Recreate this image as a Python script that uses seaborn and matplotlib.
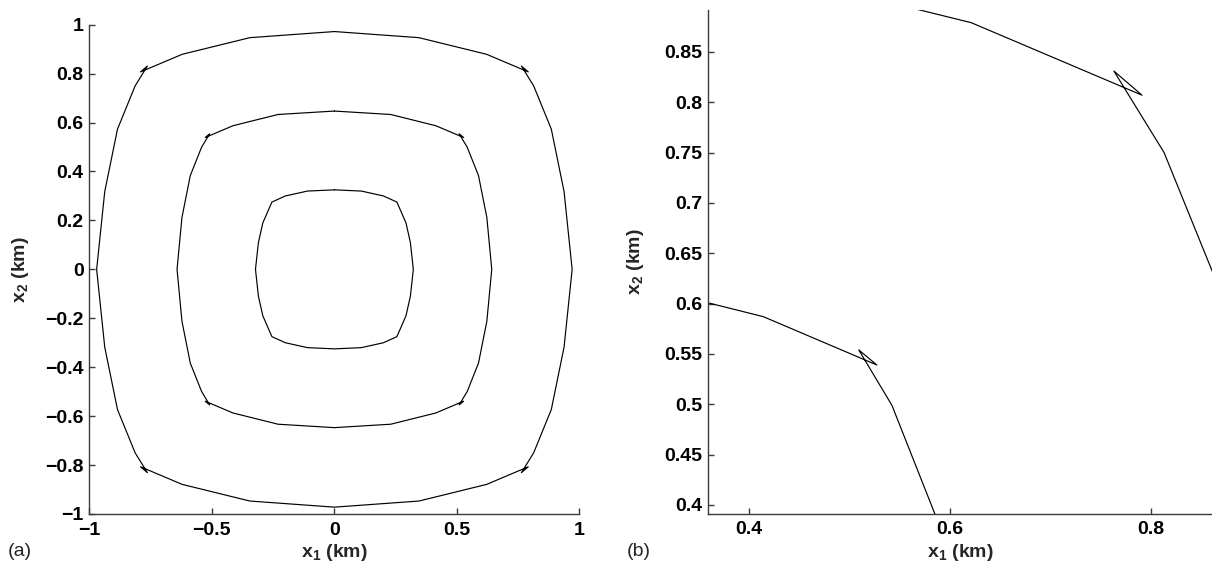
import numpy as np
import pandas as pd
import matplotlib
matplotlib.use("Agg")
import matplotlib.pyplot as plt
import seaborn as sns
from matplotlib.ticker import FuncFormatter, FixedLocator

# ---- data (km) ----
outer_x = [0.000, 0.345, 0.621, 0.791, 0.763, 0.813, 0.885, 0.937, 0.970,
           0.937, 0.885, 0.813, 0.763, 0.791, 0.621, 0.345, 0.000,
           -0.345, -0.621, -0.791, -0.763, -0.813, -0.885, -0.937, -0.970,
           -0.937, -0.885, -0.813, -0.763, -0.791, -0.621, -0.345, 0.000]
outer_y = [0.972, 0.947, 0.879, 0.807, 0.831, 0.750, 0.573, 0.318, 0.000,
           -0.318, -0.573, -0.750, -0.831, -0.807, -0.879, -0.947, -0.972,
           -0.947, -0.879, -0.807, -0.831, -0.750, -0.573, -0.318, 0.000,
           0.318, 0.573, 0.750, 0.831, 0.807, 0.879, 0.947, 0.972]

middle_x = [0.000, 0.230, 0.414, 0.527, 0.509, 0.542, 0.588, 0.622, 0.642,
            0.622, 0.588, 0.542, 0.509, 0.527, 0.414, 0.230, 0.000,
            -0.230, -0.414, -0.527, -0.509, -0.542, -0.588, -0.622, -0.642,
            -0.622, -0.588, -0.542, -0.509, -0.527, -0.414, -0.230, 0.000]
middle_y = [0.647, 0.633, 0.587, 0.539, 0.554, 0.499, 0.383, 0.212, 0.000,
            -0.212, -0.383, -0.499, -0.554, -0.539, -0.587, -0.633, -0.647,
            -0.633, -0.587, -0.539, -0.554, -0.499, -0.383, -0.212, 0.000,
            0.212, 0.383, 0.499, 0.554, 0.539, 0.587, 0.633, 0.647]

inner_x = [0.000, 0.110, 0.200, 0.255, 0.292, 0.310, 0.322,
           0.310, 0.292, 0.255, 0.200, 0.110, 0.000,
           -0.110, -0.200, -0.255, -0.292, -0.310, -0.322,
           -0.310, -0.292, -0.255, -0.200, -0.110, 0.000]
inner_y = [0.325, 0.320, 0.300, 0.275, 0.190, 0.110, 0.000,
           -0.110, -0.190, -0.275, -0.300, -0.320, -0.325,
           -0.320, -0.300, -0.275, -0.190, -0.110, 0.000,
           0.110, 0.190, 0.275, 0.300, 0.320, 0.325]

left_ticks_x = [-1, -0.5, 0, 0.5, 1]
left_ticks_y = [-1, -0.8, -0.6, -0.4, -0.2, 0, 0.2, 0.4, 0.6, 0.8, 1]
right_ticks_x = [0.4, 0.6, 0.8]
right_ticks_y = [0.4, 0.45, 0.5, 0.55, 0.6, 0.65, 0.7, 0.75, 0.8, 0.85]

frames = []
for name, xs, ys in [("outer", outer_x, outer_y),
                     ("middle", middle_x, middle_y),
                     ("inner", inner_x, inner_y)]:
    frames.append(pd.DataFrame({"x1": xs, "x2": ys, "contour": name}))
df = pd.concat(frames, ignore_index=True)

# ---- style ----
sns.set_style("ticks")
plt.rcParams["font.family"] = ["Liberation Sans", "DejaVu Sans"]
plt.rcParams["mathtext.fontset"] = "custom"
plt.rcParams["mathtext.bf"] = "Liberation Sans:bold"
plt.rcParams["mathtext.rm"] = "Liberation Sans:bold"
plt.rcParams["mathtext.default"] = "bf"

spine_col = "#3a3a3a"
FS = 14

fig = plt.figure(figsize=(12.12, 5.66), dpi=100)
axa = fig.add_axes([89.3 / 1212, 52 / 566, 490.2 / 1212, 489.3 / 566])
axb = fig.add_axes([708 / 1212, 52.4 / 566, 505 / 1212, 503.6 / 566])


def fmt(v, pos):
    s = f"{round(v, 4):g}"
    return s.replace("-", "\u2212")


for ax, ylpad in ((axa, 10.5), (axb, 13.5)):
    for name in ["outer", "middle", "inner"]:
        sub = df[df["contour"] == name]
        sns.lineplot(data=sub, x="x1", y="x2", sort=False, estimator=None,
                     color="black", linewidth=0.85, ax=ax, legend=False)
    for side in ("top", "right"):
        ax.spines[side].set_visible(False)
    for side in ("left", "bottom"):
        ax.spines[side].set_color(spine_col)
        ax.spines[side].set_linewidth(1.0)
    ax.tick_params(direction="in", length=4, width=1.0, color=spine_col,
                   labelsize=FS, labelcolor="black")
    ax.tick_params(axis="x", pad=5.5)
    ax.tick_params(axis="y", pad=4)
    ax.xaxis.set_major_formatter(FuncFormatter(fmt))
    ax.yaxis.set_major_formatter(FuncFormatter(fmt))
    ax.set_xlabel("x$_1$ (km)", fontsize=FS, fontweight="bold", labelpad=2.5)
    ax.set_ylabel("x$_2$ (km)", fontsize=FS, fontweight="bold", labelpad=ylpad)
    ax.set_facecolor("white")

axa.set_xlim(-1, 1)
axa.set_ylim(-1, 1)
axa.xaxis.set_major_locator(FixedLocator(left_ticks_x))
axa.yaxis.set_major_locator(FixedLocator(left_ticks_y))

axb.set_xlim(0.3589, 0.8617)
axb.set_ylim(0.3914, 0.8916)
axb.xaxis.set_major_locator(FixedLocator(right_ticks_x))
axb.yaxis.set_major_locator(FixedLocator(right_ticks_y))

for ax in (axa, axb):
    for lab in ax.get_xticklabels() + ax.get_yticklabels():
        lab.set_fontweight("bold")

fig.text(8 / 1212, 1 - 552 / 566, "(a)", fontsize=FS, va="center", ha="left")
fig.text(627 / 1212, 1 - 552 / 566, "(b)", fontsize=FS, va="center", ha="left")

fig.savefig("out.png", dpi=100, facecolor="white")
